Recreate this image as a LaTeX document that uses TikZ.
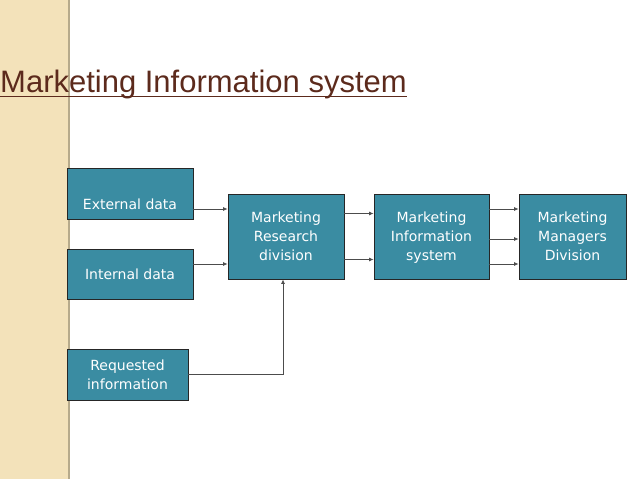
\documentclass[tikz,border=0pt]{standalone}
\usepackage{fontspec}
\setmainfont{DejaVu Sans}
\newfontfamily\titlefont{Liberation Sans}
\usetikzlibrary{arrows.meta}
\begin{document}
\begin{tikzpicture}[x=1pt,y=-1pt,
    box/.style={draw=black!85,line width=0.8pt,fill=tealbox,text=white,
        font=\fontsize{14}{19}\selectfont,align=center,inner sep=2pt,text depth=0pt},
    arr/.style={draw=black!70,line width=0.8pt,-{Latex[length=4.5pt,width=4pt]}}]
    %colores
    \definecolor{tealbox}{RGB}{58,140,162}
    \definecolor{stripe}{RGB}{243,226,186}
    \definecolor{titlec}{RGB}{92,42,28}

    \useasboundingbox (0,0) rectangle (638,479);
    % franja
    \fill[stripe] (0,0) rectangle (68,479);
    \fill[stripe!75!black] (68,0) rectangle (70,479);

    % titulo
    \node[text=titlec,font=\titlefont\fontsize{31}{37}\selectfont,
        anchor=base west,inner sep=0pt] (title) at (0,92) {Marketing Information system};
    \draw[titlec,line width=1.8pt] ([yshift=-4.5pt]title.base west) -- ([yshift=-4.5pt]title.base east);

    % cajas
    \node[box,minimum width=126,minimum height=51,text height=31pt] (ext) at (130,193.5) {External data};
    \node[box,minimum width=126,minimum height=50] (int) at (130,274) {Internal data};
    \node[box,minimum width=121,minimum height=51] (req) at (127.5,374.5) {Requested\\information};
    \node[box,minimum width=116,minimum height=85] (mrd) at (286,236.5) {Marketing\\Research\\division};
    \node[box,minimum width=115,minimum height=85] (mis) at (431.5,236.5) {Marketing\\Information\\system};
    \node[box,minimum width=107,minimum height=85] (mmd) at (572.5,236.5) {Marketing\\Managers\\Division};

    % flechas
    \draw[arr] ([yshift=-15.5pt]ext.east) -- ([yshift=-15.5pt]ext.east -| mrd.west);
    \draw[arr] ([yshift=10pt]int.east) -- ([yshift=10pt]int.east -| mrd.west);
    \draw[arr] (req.east) -| ([xshift=-3pt]mrd.south);
    \foreach \s in {23,-23}
        \draw[arr] ([yshift=\s pt]mrd.east) -- ([yshift=\s pt]mrd.east -| mis.west);
    \foreach \s in {27.5,-2.5,-27.5}
        \draw[arr] ([yshift=\s pt]mis.east) -- ([yshift=\s pt]mis.east -| mmd.west);
\end{tikzpicture}
\end{document}
